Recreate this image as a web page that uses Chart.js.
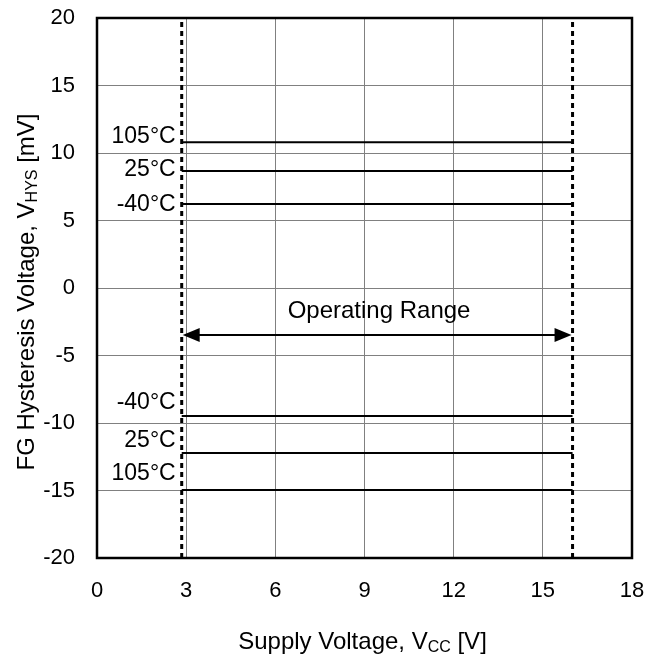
<!DOCTYPE html>
<html><head><meta charset="utf-8">
<script src="https://cdn.jsdelivr.net/npm/chart.js@4"></script>
<style>html,body{margin:0;padding:0;background:#fff}canvas{display:block}</style>
</head><body>
<canvas id="c" width="659" height="654"></canvas>
<script>
// Data
const xTicks = [0, 3, 6, 9, 12, 15, 18];
const yTicks = [-20, -15, -10, -5, 0, 5, 10, 15, 20];
const rangeStart = 2.85;   // Vcc min of operating range [V]
const rangeEnd = 16.0;     // Vcc max of operating range [V]
const tempLabels = ['105°C', '25°C', '-40°C', '-40°C', '25°C', '105°C'];
const hysValues = [10.8, 8.67, 6.22, -9.48, -12.22, -14.96];   // mV
const labelYs = [11.19, 8.78, 6.15, -8.48, -11.3, -13.74];     // mV, label anchor
const arrowY = -3.48;
const rangeText = 'Operating Range';
const rangeTextPos = {x: 9.49, y: -1.7};

const FONT = '"Liberation Sans", Arial, sans-serif';

const datasets = hysValues.map((v, i) => ({
  label: tempLabels[i],
  data: [{x: rangeStart, y: v}, {x: rangeEnd, y: v}],
  borderColor: '#000', borderWidth: 2, pointRadius: 0, fill: false
}));
[rangeStart, rangeEnd].forEach(xv => datasets.push({
  label: 'range',
  data: [{x: xv, y: yTicks[0]}, {x: xv, y: yTicks[yTicks.length - 1]}],
  borderColor: '#000', borderWidth: 3, borderDash: [5, 4], pointRadius: 0, fill: false
}));

const overlay = {
  id: 'overlay',
  afterDraw(chart) {
    const {ctx, chartArea: a, scales: {x, y}} = chart;
    ctx.save();
    // frame
    ctx.strokeStyle = '#000'; ctx.lineWidth = 2.5;
    ctx.strokeRect(a.left, a.top, a.right - a.left, a.bottom - a.top);
    // temperature labels
    ctx.fillStyle = '#000';
    ctx.font = '23px ' + FONT;
    ctx.textAlign = 'right'; ctx.textBaseline = 'middle';
    tempLabels.forEach((t, i) => {
      ctx.fillText(t, x.getPixelForValue(rangeStart) - 6, y.getPixelForValue(labelYs[i]));
    });
    // operating range arrow
    const ay = y.getPixelForValue(arrowY);
    const x1 = x.getPixelForValue(rangeStart), x2 = x.getPixelForValue(rangeEnd);
    ctx.lineWidth = 2;
    ctx.beginPath(); ctx.moveTo(x1 + 10, ay); ctx.lineTo(x2 - 10, ay); ctx.stroke();
    ctx.beginPath(); ctx.moveTo(x1 + 1, ay); ctx.lineTo(x1 + 18, ay - 7); ctx.lineTo(x1 + 18, ay + 7); ctx.closePath(); ctx.fill();
    ctx.beginPath(); ctx.moveTo(x2 - 1, ay); ctx.lineTo(x2 - 18, ay - 7); ctx.lineTo(x2 - 18, ay + 7); ctx.closePath(); ctx.fill();
    ctx.textAlign = 'center';
    ctx.font = '24px ' + FONT;
    ctx.fillText(rangeText, x.getPixelForValue(rangeTextPos.x), y.getPixelForValue(rangeTextPos.y));
    // titles with subscript
    const drawSub = (parts, cx, cy) => {
      const f = p => (p.sub ? '16px ' : '24px ') + FONT;
      let w = 0;
      parts.forEach(p => { ctx.font = f(p); w += ctx.measureText(p.t).width; });
      let px = cx - w / 2;
      ctx.textAlign = 'left'; ctx.textBaseline = 'alphabetic';
      parts.forEach(p => {
        ctx.font = f(p);
        ctx.fillText(p.t, px, cy + (p.sub ? 3 : 0));
        px += ctx.measureText(p.t).width;
      });
    };
    drawSub([{t: 'Supply Voltage, V'}, {t: 'CC', sub: true}, {t: ' [V]'}], (a.left + a.right) / 2 - 2, 649);
    ctx.save();
    ctx.translate(34, (a.top + a.bottom) / 2 + 4);
    ctx.rotate(-Math.PI / 2);
    drawSub([{t: 'FG Hysteresis Voltage, V'}, {t: 'HYS', sub: true}, {t: ' [mV]'}], 0, 0);
    ctx.restore();
    ctx.restore();
  }
};

new Chart(document.getElementById('c'), {
  type: 'line',
  data: {datasets},
  options: {
    responsive: false, animation: false,
    layout: {padding: {left: 0, top: 18, right: 27, bottom: 0}},
    plugins: {legend: {display: false}, tooltip: {enabled: false}},
    scales: {
      x: {
        type: 'linear', min: xTicks[0], max: xTicks[xTicks.length - 1],
        afterBuildTicks: s => { s.ticks = xTicks.map(v => ({value: v})); },
        afterFit: s => { s.height = 96; s.paddingLeft = 0; s.paddingRight = 0; },
        grid: {color: '#808080', lineWidth: 1, drawTicks: false},
        border: {display: false},
        ticks: {color: '#000', font: {size: 22, family: FONT}, padding: 20, maxRotation: 0}
      },
      y: {
        type: 'linear', min: yTicks[0], max: yTicks[yTicks.length - 1],
        afterBuildTicks: s => { s.ticks = yTicks.map(v => ({value: v})); },
        afterFit: s => { s.width = 97; s.paddingTop = 0; s.paddingBottom = 0; },
        grid: {color: '#808080', lineWidth: 1, drawTicks: false},
        border: {display: false},
        ticks: {color: '#000', font: {size: 22, family: FONT}, padding: 22}
      }
    }
  },
  plugins: [overlay]
});
</script>
</body></html>
